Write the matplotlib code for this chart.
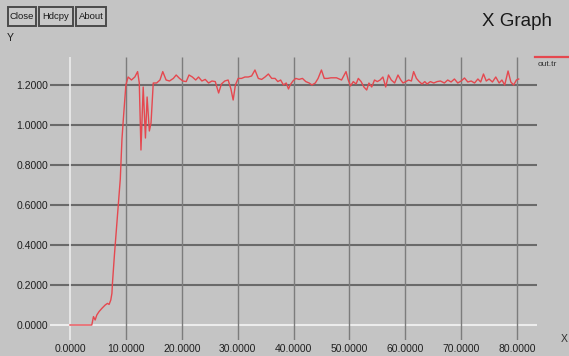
import matplotlib
matplotlib.use("Agg")
import matplotlib.pyplot as plt
from matplotlib.patches import Rectangle
from matplotlib.lines import Line2D

# Signal "out.tr" sampled over time
time = [0.0, 3.9, 4.2, 4.5, 4.8, 5.2, 5.7, 6.3, 6.7, 7.0, 7.3, 7.5, 7.6,
        7.95, 8.5, 9.0, 9.3, 9.6, 10.0, 10.4, 11.0, 11.6, 12.1, 12.4, 12.7,
        13.1, 13.5, 13.8, 14.2, 14.5, 14.9, 15.5, 16.1, 16.6, 17.2, 17.8,
        18.5, 19.0, 19.6, 20.2, 20.8, 21.3, 21.9, 22.5, 23.0, 23.6, 24.2,
        24.8, 25.4, 26.0, 26.6, 27.1, 27.7, 28.3, 28.8, 29.2, 29.6, 30.1,
        30.7, 31.3, 31.9, 32.5, 33.1, 33.7, 34.3, 34.9, 35.5, 36.1, 36.7,
        37.2, 37.7, 38.2, 38.7, 39.1, 39.4, 39.9, 40.4, 41.0, 41.6, 42.2,
        42.8, 43.3, 43.9, 44.4, 45.0, 45.5, 46.1, 46.7, 47.3, 47.7, 48.6,
        49.4, 49.8, 50.2, 50.7, 51.2, 51.6, 52.1, 52.6, 53.1, 53.5, 54.0,
        54.5, 55.0, 55.5, 56.0, 56.5, 57.0, 57.5, 58.1, 58.7, 59.2, 59.6,
        60.1, 60.6, 61.1, 61.5, 62.0, 62.5, 63.0, 63.5, 63.9, 64.5, 65.1,
        65.7, 66.3, 67.0, 67.6, 68.2, 68.8, 69.4, 70.0, 70.6, 71.2, 71.8,
        72.4, 73.0, 73.5, 74.0, 74.5, 75.0, 75.6, 76.2, 76.8, 77.3, 77.8,
        78.4, 78.9, 79.4, 79.9, 80.3]
out_tr = [0.0, 0.0, 0.042, 0.025, 0.05, 0.067, 0.083, 0.10, 0.108, 0.103,
          0.125, 0.158, 0.21, 0.35, 0.55, 0.73, 0.93, 1.05, 1.20, 1.24,
          1.225, 1.24, 1.267, 1.21, 0.875, 1.19, 0.935, 1.14, 0.97, 1.01,
          1.21, 1.21, 1.225, 1.267, 1.225, 1.22, 1.233, 1.25, 1.233, 1.22,
          1.217, 1.25, 1.24, 1.225, 1.24, 1.22, 1.228, 1.21, 1.22, 1.217,
          1.16, 1.205, 1.22, 1.225, 1.18, 1.125, 1.20, 1.233, 1.233, 1.24,
          1.24, 1.245, 1.275, 1.233, 1.228, 1.24, 1.255, 1.233, 1.233,
          1.217, 1.225, 1.20, 1.21, 1.18, 1.20, 1.22, 1.233, 1.228, 1.233,
          1.217, 1.21, 1.20, 1.21, 1.233, 1.275, 1.233, 1.233, 1.236,
          1.236, 1.236, 1.225, 1.267, 1.225, 1.195, 1.217, 1.205, 1.233,
          1.217, 1.19, 1.175, 1.21, 1.19, 1.225, 1.217, 1.225, 1.24, 1.19,
          1.25, 1.225, 1.21, 1.25, 1.225, 1.21, 1.217, 1.225, 1.22, 1.267,
          1.233, 1.217, 1.205, 1.217, 1.205, 1.217, 1.21, 1.217, 1.22,
          1.21, 1.225, 1.215, 1.23, 1.21, 1.22, 1.235, 1.215, 1.22, 1.21,
          1.23, 1.215, 1.255, 1.22, 1.23, 1.215, 1.24, 1.21, 1.225, 1.20,
          1.27, 1.215, 1.20, 1.225, 1.23]

x_ticks = [0, 10, 20, 30, 40, 50, 60, 70, 80]
x_tick_labels = ["0.0000", "10.0000", "20.0000", "30.0000", "40.0000",
                 "50.0000", "60.0000", "70.0000", "80.0000"]
y_ticks = [0.0, 0.2, 0.4, 0.6, 0.8, 1.0, 1.2]
y_tick_labels = ["0.0000", "0.2000", "0.4000", "0.6000", "0.8000",
                 "1.0000", "1.2000"]

BG = "#c4c4c4"
GRID = "#6a6a6a"
VGRID = "#7c7c7c"
AXIS0 = "#ececec"
RED = "#e5484f"
SANS = ["Liberation Sans", "DejaVu Sans"]

W, H = 569, 356
fig = plt.figure(figsize=(W / 100, H / 100), dpi=100, facecolor=BG)


def box(x0, y0, x1, y1):
    return [x0 / W, 1 - y1 / H, (x1 - x0) / W, (y1 - y0) / H]


ax = fig.add_axes(box(50, 57, 537, 340))
ax.set_facecolor(BG)
xmin, xmax = -3.58, 83.58
ymin, ymax = -0.075, 1.34
ax.set_xlim(xmin, xmax)
ax.set_ylim(ymin, ymax)
for s in ax.spines.values():
    s.set_visible(False)

# grid lines spanning the whole frame (stubs past the zero lines)
for y in y_ticks:
    ax.hlines(y, xmin, xmax, color=AXIS0 if y == 0 else GRID,
              lw=1.5, zorder=1)
for x in x_ticks:
    ax.vlines(x, ymin, ymax, color=AXIS0 if x == 0 else VGRID,
              lw=1.2 if x == 0 else 1.0, zorder=1)

ax.plot(time, out_tr, color=RED, lw=1.0, zorder=3)

ax.set_xticks(x_ticks, x_tick_labels)
ax.set_yticks(y_ticks, y_tick_labels)
ax.tick_params(length=0, labelsize=7.5, colors="#202020")
ax.tick_params(axis="x", pad=3)
ax.tick_params(axis="y", pad=1.5)
for lab in ax.get_xticklabels() + ax.get_yticklabels():
    lab.set_family(SANS)

# window buttons
for label, (x0, x1) in zip(["Close", "Hdcpy", "About"],
                           [(8, 36), (39, 73), (76, 106)]):
    fig.add_artist(Rectangle((x0 / W, 1 - 26 / H), (x1 - x0) / W, 19 / H,
                             transform=fig.transFigure, facecolor="#c8c8c8",
                             edgecolor="#4a4a4a", lw=1.4))
    fig.text((x0 + x1) / 2 / W, 1 - 16.5 / H, label, ha="center",
             va="center", fontsize=6.8, family=SANS, color="#1a1a1a")

fig.text(10 / W, 1 - 38 / H, "Y", ha="center", va="center", fontsize=7.5,
         family=SANS, color="#1a1a1a")
fig.text(517 / W, 1 - 22 / H, "X Graph", ha="center", va="center",
         fontsize=13.5, family=SANS, color="#1a1a1a")

# legend entry
fig.add_artist(Line2D([535 / W, 1.0], [1 - 57 / H, 1 - 57 / H],
                      transform=fig.transFigure, color=RED, lw=1.6))
fig.text(538 / W, 1 - 64 / H, "out.tr", ha="left", va="center",
         fontsize=6, family=SANS, color="#303030")

fig.text(561 / W, 1 - 339 / H, "X", ha="left", va="center", fontsize=7.5,
         family=SANS, color="#303030")

fig.savefig("out.png", dpi=100, facecolor=BG)
